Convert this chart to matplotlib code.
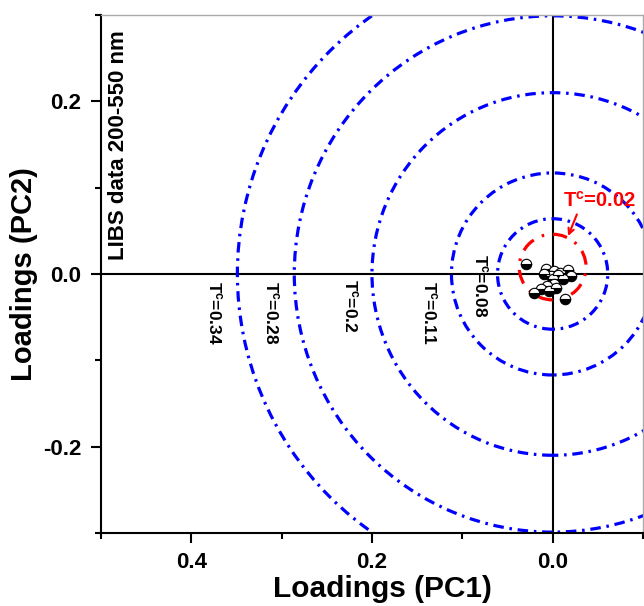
import matplotlib
matplotlib.use('Agg')
import matplotlib.pyplot as plt
from matplotlib.patches import Ellipse

plt.rcParams['font.family'] = ['Liberation Sans', 'DejaVu Sans']
plt.rcParams['font.weight'] = 'bold'
plt.rcParams['axes.unicode_minus'] = False
plt.rcParams['mathtext.fontset'] = 'custom'
plt.rcParams['mathtext.rm'] = 'Liberation Sans:bold'
plt.rcParams['mathtext.it'] = 'Liberation Sans:bold'
plt.rcParams['mathtext.bf'] = 'Liberation Sans:bold'

# loadings (PC1, PC2)
pc1 = [0.030, 0.007, -0.002, -0.008, -0.017, -0.020, 0.002, 0.000, -0.001,
       0.006, 0.013, 0.021, 0.004, -0.011, -0.014, -0.006, 0.010, -0.004]
pc2 = [0.012, 0.006, 0.003, 0.001, 0.005, -0.002, -0.002, -0.006, -0.012,
       -0.014, -0.017, -0.022, -0.020, -0.006, -0.029, -0.001, 0.000, -0.016]

# threshold circles: x radius, y radius (data units), label, label position
circ_rx = [0.349, 0.286, 0.200, 0.112, 0.061]
circ_ry = [0.365, 0.299, 0.210, 0.117, 0.064]
circ_lab = ['0.34', '0.28', '0.2', '0.11', '0.08']
lab_x = [0.374, 0.311, 0.224, 0.136, 0.080]
lab_y = [-0.008, -0.008, -0.006, -0.008, 0.023]

red_rx, red_ry, red_cy = 0.037, 0.038, 0.008

fig = plt.figure(figsize=(6.44, 6.06), dpi=100)
ax = fig.add_axes([0.1568, 0.1205, 0.8416, 0.8548])

ax.axhline(0, color='black', lw=1.5, zorder=1)
ax.axvline(0, color='black', lw=1.5, zorder=1)

for rx, ry in zip(circ_rx, circ_ry):
    ax.add_patch(Ellipse((0, 0), 2 * rx, 2 * ry, fill=False, ec='blue', lw=2.3,
                         ls=(0, (3.3, 1.8, 0.8, 1.8)), zorder=2))
ax.add_patch(Ellipse((0, red_cy), 2 * red_rx, 2 * red_ry, fill=False, ec='red',
                     lw=2.3, ls=(0, (4.5, 2.8, 0.8, 2.8)), zorder=2))

for lx, ly, lab in zip(lab_x, lab_y, circ_lab):
    ax.text(lx, ly, 'T$^{c}$=' + lab, rotation=-90, ha='center', va='top',
            fontsize=12.5, fontweight='bold', color='black')

ax.text(-0.011, 0.085, 'T$^{c}$=0.02', color='red', fontsize=14.5,
        fontweight='bold', ha='left', va='center')
ax.annotate('', xy=(-0.016, 0.041), xytext=(-0.028, 0.072),
            arrowprops=dict(arrowstyle='->', color='red', lw=1.5))

ax.plot(pc1, pc2, 'o', ms=7.5, mec='black', mfc='black', mew=0.8,
        fillstyle='bottom', markerfacecoloralt='white', zorder=4)

ax.text(0.481, 0.149, 'LIBS data 200-550 nm', rotation=90, ha='center',
        va='center', fontsize=16, fontweight='bold')

ax.set_xlim(0.5, -0.1)
ax.set_ylim(-0.3, 0.3)
ax.set_xticks([0.4, 0.2, 0.0])
ax.set_xticks([0.5, 0.3, 0.1, -0.1], minor=True)
ax.set_yticks([-0.2, 0.0, 0.2])
ax.set_yticks([-0.3, -0.1, 0.1, 0.3], minor=True)
ax.tick_params(which='major', direction='out', length=7, width=1.5,
               labelsize=16, pad=7)
ax.tick_params(which='minor', direction='out', length=4, width=1.5)

for s in ['left', 'bottom']:
    ax.spines[s].set_linewidth(1.5)
for s in ['top', 'right']:
    ax.spines[s].set_color('#aaaaaa')
    ax.spines[s].set_linewidth(1)

ax.set_xlabel('Loadings (PC1)', fontsize=21.5, fontweight='bold', labelpad=0)
ax.xaxis.set_label_coords(0.52, -0.082)
ax.set_ylabel('Loadings (PC2)', fontsize=21, fontweight='bold', labelpad=4)

fig.savefig('out.png', dpi=100)
